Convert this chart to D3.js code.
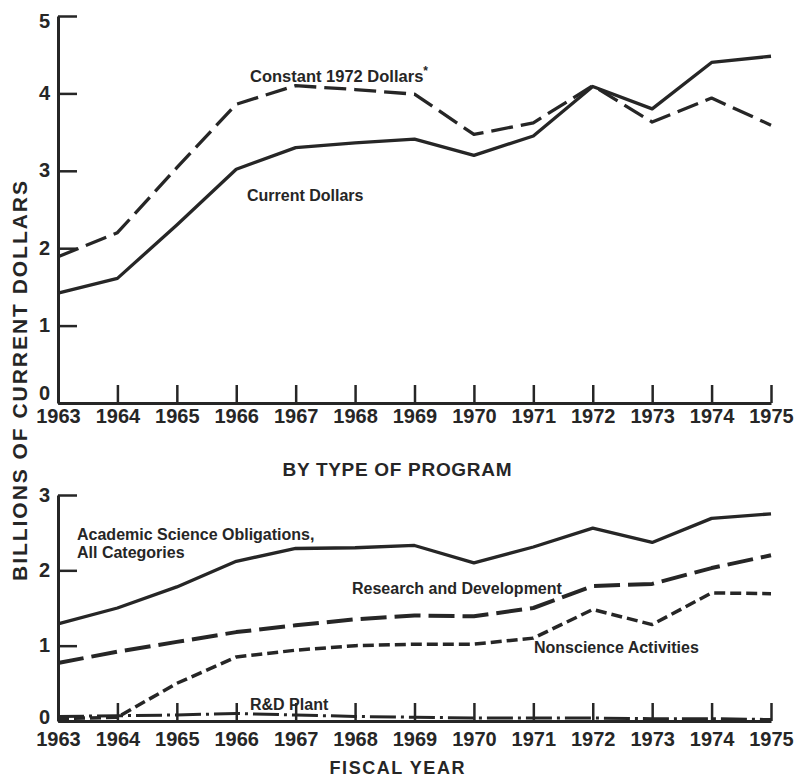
<!DOCTYPE html>
<html>
<head>
<meta charset="utf-8">
<script src="https://d3js.org/d3.v7.min.js"></script>
<style>
body { margin: 0; background: #fff; }
svg { display: block; font-family: "Liberation Sans", Arial, sans-serif; font-weight: bold; }
.axis path, .axis line { stroke: #262626; }
.axis text { fill: #262626; font-size: 20px; font-weight: bold; font-family: "Liberation Sans", Arial, sans-serif; }
.lbl { fill: #262626; font-size: 16px; }
.title { fill: #262626; font-size: 19px; }
</style>
</head>
<body>
<svg></svg>
<script>
var years = [1963, 1964, 1965, 1966, 1967, 1968, 1969, 1970, 1971, 1972, 1973, 1974, 1975];

// top panel, billions of dollars
var currentDollars = [1.42, 1.61, 2.30, 3.02, 3.30, 3.36, 3.41, 3.20, 3.45, 4.09, 3.80, 4.40, 4.48];
var constant1972 = [1.89, 2.20, 3.04, 3.86, 4.10, 4.05, 3.99, 3.47, 3.62, 4.10, 3.63, 3.94, 3.59];
var topTicks = [0, 1, 2, 3, 4, 5];

// bottom panel, by type of program
var academic = [1.29, 1.50, 1.78, 2.12, 2.29, 2.30, 2.33, 2.10, 2.31, 2.56, 2.37, 2.69, 2.75];
var researchDev = [0.77, 0.92, 1.05, 1.18, 1.27, 1.35, 1.40, 1.39, 1.50, 1.79, 1.82, 2.03, 2.20];
var nonscience = [0.03, 0.05, 0.50, 0.85, 0.94, 1.00, 1.02, 1.02, 1.10, 1.48, 1.28, 1.70, 1.69];
var rdPlant = [0.06, 0.07, 0.08, 0.10, 0.08, 0.06, 0.05, 0.04, 0.04, 0.04, 0.03, 0.03, 0.02];
var bottomTicks = [0, 1, 2, 3];

var width = 794, height = 779;
var svg = d3.select("svg").attr("width", width).attr("height", height);
var ink = "#262626";

var x = d3.scaleLinear().domain([1963, 1975]).range([58, 771]);
var yTop = d3.scaleLinear().domain([0, 5]).range([403, 16]);
var yBot = d3.scaleLinear().domain([0, 3]).range([721, 495]);

function drawAxes(y, ticks, pad) {
  var base = y.range()[0];
  var xa = svg.append("g").attr("class", "axis")
    .attr("transform", "translate(0," + base + ")")
    .call(d3.axisBottom(x).tickValues(years).tickFormat(d3.format("d"))
      .tickSizeInner(-18).tickSizeOuter(0).tickPadding(pad));
  xa.select(".domain").attr("stroke-width", 3);
  xa.selectAll(".tick line").attr("stroke-width", 2.5);

  var ya = svg.append("g").attr("class", "axis")
    .attr("transform", "translate(" + x(1963) + ",0)")
    .call(d3.axisLeft(y).tickValues(ticks).tickFormat(d3.format("d"))
      .tickSizeInner(-19).tickSizeOuter(0).tickPadding(8));
  ya.select(".domain").attr("stroke-width", 3);
  ya.selectAll(".tick line").attr("stroke-width", 2.5);
  ya.selectAll(".tick text").attr("dy", "0.3em");
  return ya;
}

function drawLine(values, y, dash, w) {
  var line = d3.line()
    .x(function(d, i) { return x(years[i]); })
    .y(function(d) { return y(d); });
  svg.append("path")
    .datum(values)
    .attr("d", line)
    .attr("fill", "none")
    .attr("stroke", ink)
    .attr("stroke-width", w || 3.3)
    .attr("stroke-linejoin", "round")
    .attr("stroke-dasharray", dash);
}

var topAxis = drawAxes(yTop, topTicks, 6);
// the zero sits a little above the axis corner, the five a little below the top
topAxis.selectAll(".tick text").filter(function(d) { return d === 0; }).attr("dy", "-0.2em");
topAxis.selectAll(".tick text").filter(function(d) { return d === 5; }).attr("dy", "0.55em");
var botAxis = drawAxes(yBot, bottomTicks, 11);
botAxis.selectAll(".tick text").filter(function(d) { return d === 0; }).attr("dy", "0.1em");

drawLine(currentDollars, yTop, null);
drawLine(constant1972, yTop, "22,8");

drawLine(academic, yBot, null);
drawLine(researchDev, yBot, "26,8", 4);
drawLine(nonscience, yBot, "11,5", 3.5);
drawLine(rdPlant, yBot, "26,5,3,5", 3);

function label(txt, px, py, cls, anchor) {
  return svg.append("text").attr("class", cls || "lbl")
    .attr("x", px).attr("y", py)
    .attr("text-anchor", anchor || "start")
    .text(txt);
}

var c = label("Constant 1972 Dollars", 250, 82);
c.style("font-size", "16.5px");
c.append("tspan").attr("dy", -7).style("font-size", "12px").text("*");
label("Current Dollars", 247, 201);

label("Academic Science Obligations,", 77, 540);
label("All Categories", 77, 558);
label("Research and Development", 352, 594);
label("Nonscience Activities", 534, 653);
label("R&D Plant", 250, 710);

label("BY TYPE OF PROGRAM", 397, 476, "title", "middle")
  .attr("textLength", 229).attr("lengthAdjust", "spacing");
label("FISCAL YEAR", 397, 774, "title", "middle")
  .style("font-size", "18px")
  .attr("textLength", 135).attr("lengthAdjust", "spacing");
svg.append("text").attr("class", "title")
  .attr("transform", "translate(27,381) rotate(-90)")
  .attr("text-anchor", "middle")
  .style("font-size", "21px")
  .attr("textLength", 400).attr("lengthAdjust", "spacing")
  .text("BILLIONS OF CURRENT DOLLARS");
</script>
</body>
</html>
